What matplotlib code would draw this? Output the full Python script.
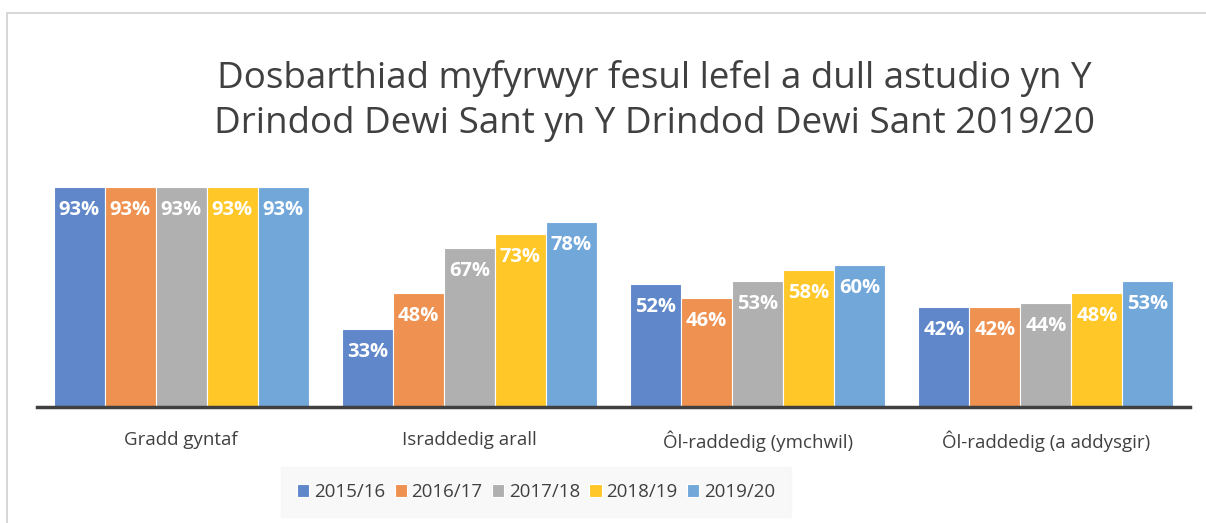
import numpy as np
import matplotlib.pyplot as plt
from matplotlib.patches import Rectangle

# data
categories = ['Gradd gyntaf', 'Israddedig arall', 'Ôl-raddedig (ymchwil)', 'Ôl-raddedig (a addysgir)']
years = ['2015/16', '2016/17', '2017/18', '2018/19', '2019/20']
vals_1516 = [93, 33, 52, 42]
vals_1617 = [93, 48, 46, 42]
vals_1718 = [93, 67, 53, 44]
vals_1819 = [93, 73, 58, 48]
vals_1920 = [93, 78, 60, 53]
series = [vals_1516, vals_1617, vals_1718, vals_1819, vals_1920]
colors = ['#5f87ca', '#ef9150', '#b0b0b0', '#ffc728', '#72a7da']

plt.rcParams['font.family'] = ['Open Sans', 'DejaVu Sans']
txt = '#404040'

fig = plt.figure(figsize=(12.06, 5.23), dpi=100)
# chart frame (right/bottom edges cut off in the reference)
fig.patches.append(Rectangle((7 / 1206, -0.1), 1.2, 1 - 13 / 523 + 0.1, transform=fig.transFigure,
                             fill=False, edgecolor='#d0d0d0', lw=1.2))

ax = fig.add_axes([37 / 1206, 1 - 407 / 523, (1190 - 37) / 1206, (407 - 170) / 523])
x = np.arange(len(categories))
w = 1 / 5.65
for i, (vals, c) in enumerate(zip(series, colors)):
    pos = x + (i - 2) * w
    bars = ax.bar(pos, vals, w, color=c, edgecolor='white', linewidth=0.8, label=years[i])
    for b, v in zip(bars, vals):
        ax.text(b.get_x() + b.get_width() / 2, v - 5.5, f'{v}%', ha='center', va='top',
                color='white', fontsize=14.5, fontweight='bold')

ax.set_xlim(-0.5, len(categories) - 0.5)
ax.set_ylim(0, 100)
ax.set_yticks([])
for s in ['top', 'right', 'left']:
    ax.spines[s].set_visible(False)
ax.spines['bottom'].set_color(txt)
ax.spines['bottom'].set_linewidth(2.5)
ax.set_xticks(x)
ax.set_xticklabels(categories, fontsize=13.5, color=txt)
ax.tick_params(axis='x', length=0, pad=17)

fig.text(654 / 1206, 1 - 101 / 523, 'Dosbarthiad myfyrwyr fesul lefel a dull astudio yn Y\n'
         'Drindod Dewi Sant yn Y Drindod Dewi Sant 2019/20',
         ha='center', va='center', fontsize=26.5, color=txt, linespacing=1.32)

leg = fig.legend(loc='center', bbox_to_anchor=(536 / 1206, 1 - 492 / 523), ncol=5,
                 frameon=True, fontsize=13.5, handlelength=0.65, handleheight=0.65,
                 handletextpad=0.25, columnspacing=0.5, borderpad=0.55)
leg.get_frame().set_facecolor('#f7f7f7')
leg.get_frame().set_edgecolor('#f7f7f7')
leg.get_frame().set_boxstyle('square')
for t in leg.get_texts():
    t.set_color(txt)

fig.savefig('out.png', dpi=100)
